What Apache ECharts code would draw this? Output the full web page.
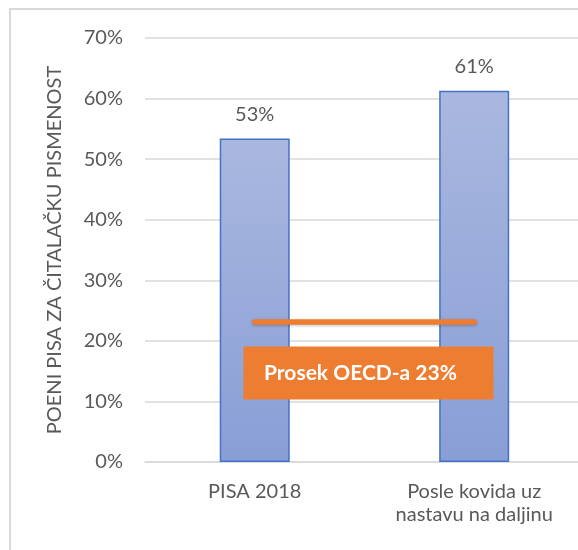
<!DOCTYPE html>
<html lang="sr" style="height: 100%">
<head>
  <meta charset="utf-8">
</head>
<body style="height: 100%; margin: 0; background: #fff">
  <div id="container" style="width: 578px; height: 550px;"></div>

  <script type="text/javascript" src="https://fastly.jsdelivr.net/npm/echarts@6.0.0/dist/echarts.min.js"></script>
  <script type="text/javascript">
    // chart data
    var categories = ['PISA 2018', 'Posle kovida uz\nnastavu na daljinu'];
    var scores = [53.4, 61.3];
    var scoreLabels = ['53%', '61%'];
    var oecdAverage = [23.1, 23.1];
    var oecdText = 'Prosek OECD-a 23%';
    var yTicks = [0, 10, 20, 30, 40, 50, 60, 70];

    var font = 'Lato, "Open Sans", sans-serif';
    var grey = '#595959';

    var dom = document.getElementById('container');
    var myChart = echarts.init(dom, null, { renderer: 'canvas' });

    // the plot area runs past the right edge of the picture, so the
    // category slots are laid out on a numeric axis (slot i centred on i)
    var option = {
      animation: false,
      grid: { left: 145, top: 38, right: 0, bottom: 88, containLabel: false },
      xAxis: {
        type: 'value',
        min: -0.5,
        max: 1.473,
        interval: 0.5,
        splitLine: { show: false },
        axisLine: { show: true, lineStyle: { color: '#d9d9d9', width: 1.5 } },
        axisTick: { show: false },
        axisLabel: {
          color: grey, fontSize: 20, fontFamily: font, margin: 18, lineHeight: 23,
          showMinLabel: false, showMaxLabel: false,
          formatter: function (v) {
            return Number.isInteger(v) && categories[v] ? categories[v] : '';
          }
        }
      },
      yAxis: {
        type: 'value',
        min: yTicks[0],
        max: yTicks[yTicks.length - 1],
        interval: 10,
        name: 'POENI PISA ZA ČITALAČKU PISMENOST',
        nameLocation: 'middle',
        nameGap: 80,
        nameTextStyle: { color: grey, fontSize: 20, fontFamily: font },
        axisLine: { show: false },
        axisTick: { show: false },
        axisLabel: { color: grey, fontSize: 20, fontFamily: font, margin: 22, formatter: '{value}%' },
        splitLine: { lineStyle: { color: '#d9d9d9', width: 1.5 } }
      },
      series: [
        {
          type: 'bar',
          data: scores.map(function (v, i) { return [i, v]; }),
          barWidth: 70,
          itemStyle: {
            color: new echarts.graphic.LinearGradient(0, 0, 0, 1, [
              { offset: 0, color: '#aab8df' },
              { offset: 1, color: '#889ed6' }
            ]),
            borderColor: '#4472c4',
            borderWidth: 1.5
          },
          label: {
            show: true,
            position: 'top',
            distance: 14,
            color: grey,
            fontSize: 20,
            fontFamily: font,
            formatter: function (p) { return scoreLabels[p.dataIndex]; }
          }
        },
        {
          type: 'line',
          data: oecdAverage.map(function (v, i) { return [i, v]; }),
          symbol: 'none',
          lineStyle: { color: '#ed7d31', width: 5.5, cap: 'round',
            shadowColor: 'rgba(0,0,0,0.25)', shadowBlur: 3, shadowOffsetY: 1 },
          z: 5
        }
      ]
    };

    myChart.setOption(option);

    // OECD label box sits between the two bars, just below the line
    var mid = myChart.convertToPixel({ gridIndex: 0 }, [0.5, 14.6]);
    var cx = mid[0] + 4;
    myChart.setOption({
      graphic: [
        {
          type: 'rect',
          shape: { x: 10, y: 9, width: 700, height: 700 },
          style: { fill: 'none', stroke: '#d9d9d9', lineWidth: 2 },
          silent: true,
          z: -10
        },
        {
          type: 'rect',
          shape: { x: cx - 125, y: mid[1] - 27, width: 250, height: 53 },
          style: { fill: '#ed7d31' },
          z: 10
        },
        {
          type: 'text',
          x: cx - 8,
          y: mid[1],
          style: {
            text: oecdText,
            fill: '#ffffff',
            font: 'bold 21px ' + font,
            align: 'center',
            verticalAlign: 'middle'
          },
          z: 11
        }
      ]
    });

    window.addEventListener('resize', myChart.resize);
  </script>
</body>
</html>
